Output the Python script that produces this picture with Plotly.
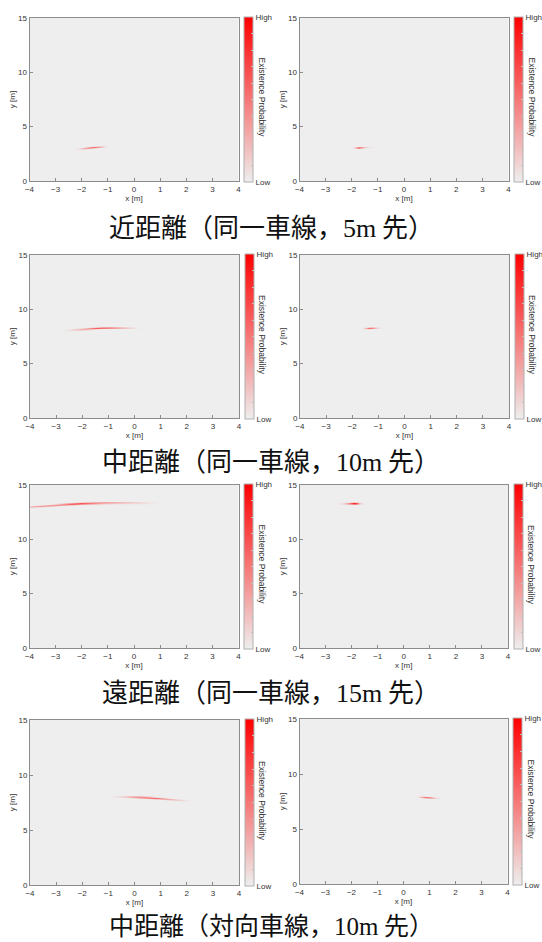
import numpy as np
import plotly.graph_objects as go

# ---------------------------------------------------------------
# Existence-probability ridges, one per panel (row-major order).
# x [m], y [m] of the ridge centre and its probability (0..1).
# ---------------------------------------------------------------
near_same_a_x = [-2.15, -1.95, -1.75, -1.55, -1.35, -1.15, -1.0]
near_same_a_y = [2.92, 2.97, 3.03, 3.09, 3.13, 3.16, 3.17]
near_same_a_p = [0.05, 0.30, 0.55, 0.62, 0.40, 0.12, 0.0]

near_same_b_x = [-1.95, -1.85, -1.75, -1.65, -1.55, -1.45, -1.35, -1.25, -1.15]
near_same_b_y = [3.03, 3.04, 3.05, 3.07, 3.08, 3.09, 3.10, 3.10, 3.10]
near_same_b_p = [0.0, 0.35, 0.80, 0.55, 0.28, 0.14, 0.06, 0.02, 0.0]

mid_same_a_x = [-2.75, -2.5, -2.25, -2.0, -1.75, -1.5, -1.25, -1.0, -0.75, -0.5, -0.25, 0.0, 0.25]
mid_same_a_y = [8.06, 8.09, 8.13, 8.17, 8.21, 8.25, 8.28, 8.29, 8.29, 8.29, 8.28, 8.28, 8.28]
mid_same_a_p = [0.0, 0.08, 0.16, 0.32, 0.48, 0.62, 0.72, 0.66, 0.50, 0.34, 0.18, 0.06, 0.0]

mid_same_b_x = [-1.65, -1.55, -1.45, -1.35, -1.25, -1.15, -1.05, -0.95, -0.85]
mid_same_b_y = [8.24, 8.24, 8.25, 8.26, 8.27, 8.27, 8.27, 8.27, 8.27]
mid_same_b_p = [0.0, 0.10, 0.38, 0.62, 0.55, 0.35, 0.15, 0.04, 0.0]

far_same_a_x = [-4.0, -3.6, -3.2, -2.8, -2.4, -2.0, -1.6, -1.2, -0.8, -0.4, 0.0, 0.4, 0.8, 1.2]
far_same_a_y = [12.98, 13.05, 13.12, 13.19, 13.25, 13.30, 13.33, 13.35, 13.36, 13.36, 13.36, 13.35, 13.34, 13.34]
far_same_a_p = [0.28, 0.38, 0.48, 0.56, 0.62, 0.65, 0.60, 0.50, 0.40, 0.30, 0.20, 0.10, 0.03, 0.0]

far_same_b_x = [-2.6, -2.45, -2.3, -2.15, -2.0, -1.9, -1.8, -1.7, -1.6, -1.5]
far_same_b_y = [13.28, 13.28, 13.29, 13.29, 13.30, 13.30, 13.30, 13.30, 13.30, 13.30]
far_same_b_p = [0.0, 0.05, 0.14, 0.35, 0.70, 0.85, 0.62, 0.22, 0.05, 0.0]

mid_opp_a_x = [-0.95, -0.7, -0.4, -0.1, 0.2, 0.5, 0.8, 1.1, 1.4, 1.7, 2.0, 2.25]
mid_opp_a_y = [8.05, 8.04, 8.03, 8.01, 7.98, 7.95, 7.90, 7.84, 7.78, 7.71, 7.65, 7.60]
mid_opp_a_p = [0.0, 0.05, 0.15, 0.30, 0.50, 0.65, 0.60, 0.45, 0.30, 0.15, 0.05, 0.0]

mid_opp_b_x = [0.5, 0.6, 0.7, 0.8, 0.9, 1.0, 1.1, 1.2, 1.3, 1.4, 1.5]
mid_opp_b_y = [7.92, 7.92, 7.91, 7.90, 7.88, 7.86, 7.84, 7.82, 7.80, 7.79, 7.78]
mid_opp_b_p = [0.0, 0.15, 0.35, 0.50, 0.60, 0.55, 0.40, 0.20, 0.08, 0.03, 0.0]

captions = [
    "近距離（同一車線，<span style=\"font-family:'Liberation Serif'\">5m</span> 先）",
    "中距離（同一車線，<span style=\"font-family:'Liberation Serif'\">10m</span> 先）",
    "遠距離（同一車線，<span style=\"font-family:'Liberation Serif'\">15m</span> 先）",
    "中距離（対向車線，<span style=\"font-family:'Liberation Serif'\">10m</span> 先）",
]

x_ticks = [-4, -3, -2, -1, 0, 1, 2, 3, 4]
y_ticks = [0, 5, 10, 15]
cbar_ticks = [0, 0.1, 0.2, 0.3, 0.4, 0.5, 0.6, 0.7, 0.8, 0.9, 1.0]
cbar_text = ["Low", "", "", "", "", "", "", "", "", "", "High"]

panels = [
    (near_same_a_x, near_same_a_y, near_same_a_p),
    (near_same_b_x, near_same_b_y, near_same_b_p),
    (mid_same_a_x, mid_same_a_y, mid_same_a_p),
    (mid_same_b_x, mid_same_b_y, mid_same_b_p),
    (far_same_a_x, far_same_a_y, far_same_a_p),
    (far_same_b_x, far_same_b_y, far_same_b_p),
    (mid_opp_a_x, mid_opp_a_y, mid_opp_a_p),
    (mid_opp_b_x, mid_opp_b_y, mid_opp_b_p),
]

# ---------------------------------------------------------------
# Layout (pixels) and styling
# ---------------------------------------------------------------
W, H = 542, 942
BG = "#eeeeee"
RED_SCALE = [[0.0, BG], [1.0, "#ff0000"]]
AXIS_GREY = "#8c8c8c"
TXT = "#333333"
FONT = "Liberation Sans, Arial, sans-serif"
RIDGE_HALF_WIDTH = 0.12  # metres

# plot rectangles: (left, right, top, bottom)
boxes = [
    (29.5, 238.5, 18, 181), (299.5, 508.5, 18, 181),
    (30, 239, 255, 418), (300, 509, 255, 418),
    (29.5, 238.5, 485, 648), (299.5, 508, 485, 648),
    (30, 239, 720, 885), (299.5, 507.5, 719, 884),
]
caption_y = [226, 459, 690, 924]
caption_size = [26, 26, 26, 25]

y_grid = np.round(np.arange(0.0, 15.0001, 0.05), 3)


def ridge_field(xs, ys, ps):
    cols = []
    for yc, p in zip(ys, ps):
        w = np.clip(1.0 - np.abs(y_grid - yc) / RIDGE_HALF_WIDTH, 0.0, None)
        cols.append(p * w)
    return np.array(cols).T


fig = go.Figure()
annotations = []
layout_axes = {}

for i, ((xs, ys, ps), (l, r, t, b)) in enumerate(zip(panels, boxes)):
    n = i + 1
    xa = "x" if n == 1 else f"x{n}"
    ya = "y" if n == 1 else f"y{n}"
    cb_left = r + 5.5
    fig.add_trace(go.Heatmap(
        x=xs, y=y_grid, z=ridge_field(xs, ys, ps),
        zmin=0, zmax=1, colorscale=RED_SCALE, zsmooth="best",
        hoverinfo="skip", xaxis=xa, yaxis=ya,
        colorbar=dict(
            x=cb_left / W, xanchor="left", xpad=0, ypad=0,
            y=1 - (t - 1) / H, yanchor="top", len=(b - t + 2) / H, lenmode="fraction",
            thickness=9, thicknessmode="pixels",
            outlinecolor="#b0b0b0", outlinewidth=1,
            tickmode="array", tickvals=cbar_ticks, ticktext=cbar_text,
            ticks="inside", ticklen=2, tickcolor="#c4c4c4",
            tickfont=dict(family=FONT, size=8, color=TXT),
        ),
    ))
    axis_common = dict(
        showline=True, linecolor=AXIS_GREY, linewidth=1, mirror=True,
        ticks="inside", ticklen=3, tickcolor=AXIS_GREY,
        showgrid=False, zeroline=False, fixedrange=True,
        tickfont=dict(family=FONT, size=8, color=TXT),
    )
    layout_axes["xaxis" if n == 1 else f"xaxis{n}"] = dict(
        axis_common, domain=[l / W, r / W], anchor=ya, range=[-4, 4],
        tickmode="array", tickvals=x_ticks,
        title=dict(text="x [m]", font=dict(family=FONT, size=8, color=TXT), standoff=0),
    )
    layout_axes["yaxis" if n == 1 else f"yaxis{n}"] = dict(
        axis_common, domain=[1 - b / H, 1 - t / H], anchor=xa, range=[0, 15],
        tickmode="array", tickvals=y_ticks,
        title=dict(text="y [m]", font=dict(family=FONT, size=8, color=TXT), standoff=1),
    )
    annotations.append(dict(
        text="Existence Probability", textangle=90,
        xref="paper", yref="paper", x=(cb_left + 18) / W, y=1 - (t + b - 4) / 2 / H,
        xanchor="center", yanchor="middle", showarrow=False,
        font=dict(family=FONT, size=8.5, color=TXT),
    ))

for cap, cy, cs in zip(captions, caption_y, caption_size):
    annotations.append(dict(
        text=cap, xref="paper", yref="paper", x=271 / W, y=1 - cy / H,
        xanchor="center", yanchor="middle", showarrow=False, borderpad=0,
        font=dict(family="Noto Sans CJK JP", size=cs, color="#111111"),
    ))

fig.update_layout(
    width=W, height=H,
    margin=dict(l=0, r=0, t=0, b=0, autoexpand=False),
    paper_bgcolor="white", plot_bgcolor=BG, showlegend=False,
    annotations=annotations, **layout_axes,
)

fig.write_html("out.html")
